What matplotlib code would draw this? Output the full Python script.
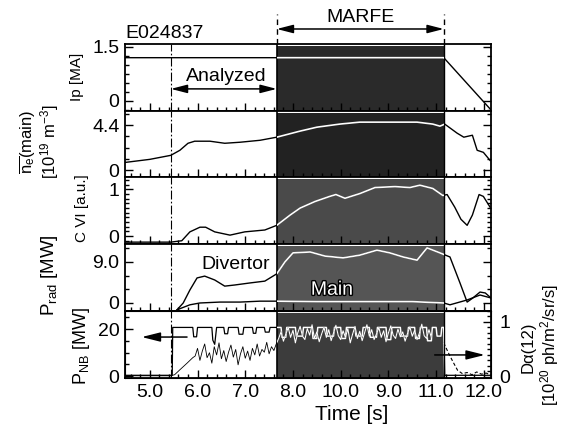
import numpy as np
import matplotlib.pyplot as plt
import matplotlib.patheffects as pe
from matplotlib.patches import Rectangle
from matplotlib.ticker import MultipleLocator

plt.rcParams['font.family'] = ['Liberation Sans', 'DejaVu Sans']
plt.rcParams['mathtext.fontset'] = 'custom'
plt.rcParams['mathtext.rm'] = 'Liberation Sans'
plt.rcParams['mathtext.it'] = 'Liberation Sans:italic'
plt.rcParams['mathtext.bf'] = 'Liberation Sans:bold'

# x axis (tick labels kept as printed in the original figure)
xticks = [5, 6, 7, 8, 9, 10, 11, 12]
xticklabels = ['5.0', '6.0', '7.0', '8.0', '10.0', '9.0', '11.0', '12.0']
t_analyzed = 5.44
t_marfe = [7.66, 11.16]

# Ip [MA]
ip_t = [4.48, 11.16, 12.15]
ip_v = [1.2, 1.2, -0.25]

# line averaged density [1e19 m^-3]
ne_t = [4.48, 5.0, 5.44, 5.63, 5.80, 5.94, 6.26, 6.57, 6.89, 7.31, 7.66, 8.14, 8.50,
        8.98, 9.40, 10.03, 10.60, 10.93, 11.08, 11.18, 11.44, 11.58, 11.76, 11.86,
        11.99, 12.13]
ne_v = [0.78, 1.08, 1.47, 1.96, 2.64, 2.84, 2.84, 2.64, 2.74, 2.93, 3.23, 3.81, 4.2,
        4.5, 4.69, 4.69, 4.69, 4.5, 4.3, 4.5, 3.62, 3.23, 3.42, 1.96, 1.76, 0.98]

# C VI [a.u.]
cvi_t = [4.48, 5.0, 5.44, 5.67, 5.84, 6.05, 6.17, 6.36, 6.68, 6.99, 7.41, 7.66, 7.94,
         8.15, 8.46, 8.77, 8.90, 9.09, 9.40, 9.72, 10.14, 10.45, 10.66, 10.93, 11.14,
         11.23, 11.39, 11.52, 11.65, 11.76, 11.90, 11.99, 12.13]
cvi_v = [-0.13, -0.13, -0.13, -0.10, 0.09, 0.19, 0.19, 0.09, 0.02, 0.09, 0.13, 0.23, 0.45,
         0.60, 0.74, 0.85, 0.89, 0.81, 0.91, 1.04, 1.06, 1.04, 1.09, 1.02, 0.87,
         0.89, 0.62, 0.36, 0.23, 0.45, 0.89, 0.85, 0.62]

# P_rad [MW]
div_t = [5.57, 5.70, 5.84, 5.99, 6.15, 6.36, 6.57, 6.78, 7.10, 7.41, 7.66, 7.83, 8.00,
         8.36, 8.67, 9.05, 9.40, 9.76, 10.03, 10.31, 10.60, 10.81, 11.08, 11.29, 11.50,
         11.65, 11.77, 11.92, 12.03, 12.15]
div_v = [-1.5, 0.0, 2.85, 5.5, 5.9, 5.05, 3.7, 3.95, 4.4, 4.8, 6.4, 9.0, 11.0,
         11.2, 10.3, 9.9, 10.5, 11.6, 11.0, 10.1, 9.4, 12.1, 11.0, 10.1, 4.4,
         0.2, 1.1, 2.4, 2.2, 1.1]
main_t = [5.57, 5.84, 6.05, 6.47, 6.89, 7.31, 7.66, 8.5, 9.5, 10.5, 11.16, 11.29,
          11.65, 11.92, 12.15]
main_v = [-1.5, -0.4, 0.0, 0.2, 0.2, 0.4, 0.4, 0.3, 0.3, 0.3, 0.0, -0.4,
          0.66, 1.75, 1.1]

# P_NB [MW]
pnb_t = [4.48, 5.47, 5.48, 5.90, 5.92, 5.98, 6.00, 6.30, 6.32, 6.36, 6.40, 6.55, 6.57,
         6.63, 6.65, 6.85, 6.87, 6.95, 6.97, 7.15, 7.17, 7.22, 7.24, 7.40, 7.42, 7.50,
         7.52, 7.75, 7.77, 7.85, 7.87, 8.05, 8.07, 8.20, 8.22, 8.40, 8.42, 8.50, 8.52,
         8.70, 8.72, 8.85, 8.87, 9.00, 9.02, 9.10, 9.12, 9.30, 9.32, 9.45, 9.47, 9.60,
         9.62, 9.75, 9.77, 9.95, 9.97, 10.05, 10.07, 10.25, 10.27, 10.40, 10.42, 10.55,
         10.57, 10.65, 10.67, 10.80, 10.82, 10.90, 10.92, 11.00, 11.02, 11.10, 11.12,
         11.16, 11.18, 12.15]
pnb_v = [0.3, 0.3, 20.7, 20.7, 16.7, 16.7, 20.7, 20.7, 15.3, 13.5, 20.7, 20.7, 18.0,
         18.0, 20.7, 20.7, 17.8, 17.8, 20.7, 20.7, 18.2, 18.2, 20.7, 20.7, 18.7, 18.7,
         20.7, 20.7, 16.5, 16.5, 20.7, 20.7, 17.0, 17.0, 20.7, 20.7, 16.0, 16.0, 20.7,
         20.7, 17.0, 17.0, 20.7, 20.7, 16.0, 16.0, 20.7, 20.7, 17.0, 17.0, 20.7, 20.7,
         16.5, 16.5, 20.7, 20.7, 15.5, 15.5, 20.7, 20.7, 17.0, 17.0, 20.7, 20.7,
         16.0, 16.0, 20.7, 20.7, 15.0, 15.0, 20.7, 20.7, 17.0, 17.0, 20.7,
         20.7, 0.3, 0.3]

# D-alpha [1e20 ph/m2/sr/s]
da_ramp_t = [4.48, 5.0, 5.44, 5.52, 5.63, 5.78, 5.90]
da_ramp_v = [0.02, 0.02, 0.02, 0.04, 0.13, 0.25, 0.35]
da_t0, da_dt = 5.95, 0.05
da_v = [0.38, 0.52, 0.30, 0.47, 0.60, 0.35, 0.44, 0.25, 0.55, 0.40, 0.62, 0.33, 0.48,
        0.28, 0.45, 0.58, 0.36, 0.50, 0.22, 0.42, 0.55, 0.34, 0.47, 0.30, 0.52, 0.40,
        0.60, 0.38, 0.50, 0.45, 0.63, 0.42, 0.55, 0.48, 0.60,
        0.70, 0.82, 0.65, 0.78, 0.90, 0.72, 0.85, 0.62, 0.80, 0.92, 0.74, 0.68, 0.88,
        0.76, 0.95, 0.70, 0.82, 0.64, 0.78, 0.90, 0.72, 0.86, 0.66, 0.80, 0.94, 0.75,
        0.68, 0.84, 0.72, 0.88, 0.62, 0.78, 0.92, 0.70, 0.83, 0.66, 0.80, 0.95, 0.74,
        0.86, 0.68, 0.78, 0.90, 0.72, 0.84, 0.64, 0.80, 0.93, 0.76, 0.70, 0.87, 0.73,
        0.82, 0.65, 0.79, 0.91, 0.74, 0.85, 0.68, 0.80, 0.96, 0.75, 0.70, 0.86, 0.72]
da_tail_t = [11.16, 11.25, 11.35, 11.45, 11.55, 11.65, 11.75, 11.85, 11.95, 12.05, 12.15]
da_tail_v = [0.62, 0.45, 0.28, 0.12, 0.06, 0.08, 0.04, 0.09, 0.05, 0.07, 0.03]

W, H = 566, 429
bounds = [44, 111, 177.5, 244, 311, 378]
x_left, x_right = 125, 491


def rect(i):
    top, bot = bounds[i], bounds[i + 1]
    return [x_left / W, 1 - bot / H, (x_right - x_left) / W, (bot - top) / H]


fig = plt.figure(figsize=(W / 100, H / 100), dpi=100)
axes = [fig.add_axes(rect(i)) for i in range(5)]

panels = [
    ((-0.28, 1.58), [0, 1.5], ['0', '1.5'], 0.25, '#2a2a2a'),
    ((-0.68, 5.77), [0, 4.4], ['0', '4.4'], 1.1, '#222222'),
    ((-0.17, 1.255), [0, 1], ['0', '1'], 0.1, '#4a4a4a'),
    ((-1.76, 12.95), [0, 9], ['0', '9.0'], 3, '#555555'),
    ((-0.85, 27.7), [0, 20], ['0', '20'], 5, '#3c3c3c'),
]


def white_inside(ax, line):
    clip = Rectangle((t_marfe[0], -1e3), t_marfe[1] - t_marfe[0], 2e3,
                     transform=ax.transData)
    line.set_clip_path(clip)


def trace(ax, t, v, lw=1.0, ls='-'):
    ax.plot(t, v, color='black', lw=lw, ls=ls, zorder=3)
    wl, = ax.plot(t, v, color='white', lw=lw + 0.2, ls=ls, zorder=4)
    white_inside(ax, wl)


for i, ax in enumerate(axes):
    ylim, yt, ytl, mstep, shade = panels[i]
    ax.set_xlim(4.48, 12.15)
    ax.set_ylim(*ylim)
    ax.set_yticks(yt)
    ax.set_yticklabels(ytl)
    ax.yaxis.set_minor_locator(MultipleLocator(mstep))
    ax.set_xticks(xticks)
    ax.xaxis.set_minor_locator(MultipleLocator(0.2))
    if i < 4:
        ax.set_xticklabels([])
    else:
        ax.set_xticklabels(xticklabels)
    ax.tick_params(which='both', direction='in', top=False, right=(i < 4),
                   labelsize=14, pad=4)
    ax.tick_params(which='major', length=6, width=1)
    ax.tick_params(which='minor', length=3, width=1)
    for sp in ax.spines.values():
        sp.set_linewidth(1.3)
    ax.axvspan(t_marfe[0], t_marfe[1], ymin=0, ymax=0.97, color=shade, lw=0, zorder=1)
    ax.axvline(t_marfe[0], color='black', lw=1.2, zorder=2)
    ax.axvline(t_marfe[1], color='black', lw=1.0, zorder=2)
    ax.axvline(t_analyzed, color='black', lw=0.8, ls=(0, (8, 2, 1.5, 2)), zorder=2)

ax1, ax2, ax3, ax4, ax5 = axes

trace(ax1, ip_t, ip_v)
trace(ax2, ne_t, ne_v)
trace(ax3, cvi_t, cvi_v)
trace(ax4, div_t, div_v)
trace(ax4, main_t, main_v)
trace(ax5, pnb_t, pnb_v, lw=0.9)

ax5b = ax5.twinx()
ax5b.set_ylim(-0.02, 1.2)
ax5b.set_yticks([0, 1])
ax5b.set_yticklabels(['0', '1'])
ax5b.yaxis.set_minor_locator(MultipleLocator(0.1))
ax5b.tick_params(which='both', direction='in', labelsize=14, pad=6)
ax5b.tick_params(which='major', length=6, width=1)
ax5b.tick_params(which='minor', length=3, width=1)
da_t = [da_t0 + da_dt * k for k in range(len(da_v))]
trace(ax5b, da_ramp_t + da_t, da_ramp_v + da_v, lw=0.6)
trace(ax5b, da_tail_t, da_tail_v, lw=0.8, ls=(0, (3, 2)))

# annotations above the top panel
xt = ax1.get_xaxis_transform()
for tm in t_marfe:
    ax1.plot([tm, tm], [1.0, 1.45], transform=xt, color='black', lw=1.0,
             ls=(0, (4, 3)), clip_on=False)
arrow_kw = dict(arrowstyle='<|-|>,head_length=0.7,head_width=0.18', color='black',
                lw=1.1, shrinkA=0, shrinkB=0, mutation_scale=14)
ax1.annotate('', xy=(t_marfe[0], 1.224), xytext=(t_marfe[1], 1.224), xycoords=xt,
             textcoords=xt, arrowprops=arrow_kw, annotation_clip=False)
ax1.text(sum(t_marfe) / 2, 1.40, 'MARFE', transform=xt, ha='center', va='center',
         fontsize=14)
ax1.text(0.0, 1.164, 'E024837', transform=ax1.transAxes, ha='left', va='center',
         fontsize=14)
ax1.annotate('', xy=(t_analyzed, 0.33), xytext=(t_marfe[0], 0.33), xycoords=xt,
             textcoords=xt, arrowprops=arrow_kw, annotation_clip=False)
ax1.text(6.61, 0.52, 'Analyzed', transform=xt, ha='center', va='center',
         fontsize=14, zorder=5)

ax4.text(6.80, 0.69, 'Divertor', transform=ax4.get_xaxis_transform(),
         ha='center', va='center', fontsize=14, zorder=5)
ax4.text(8.82, 0.31, 'Main', transform=ax4.get_xaxis_transform(), ha='center',
         va='center', fontsize=14, color='white', zorder=5,
         path_effects=[pe.withStroke(linewidth=2, foreground='black')])

one_arrow = dict(arrowstyle='-|>,head_length=0.8,head_width=0.2', color='black',
                 lw=1.1, shrinkA=0, shrinkB=0, mutation_scale=14)
ax5.annotate('', xy=(4.83, 16.6), xytext=(5.78, 16.6), arrowprops=one_arrow, zorder=6)
ax5b.annotate('', xy=(12.02, 0.40), xytext=(10.97, 0.40), arrowprops=one_arrow, zorder=6)

# axis labels
def flabel(x, y, s, size, rot=90):
    fig.text(x / W, 1 - y / H, s, rotation=rot, ha='center', va='center', fontsize=size)


flabel(77, 77, 'Ip [MA]', 11)
flabel(28, 142, r'$\overline{\mathrm{n}_{\mathrm{e}}}$(main)', 12)
flabel(50, 142, r'[10$^{19}$ m$^{-3}$]', 12)
flabel(82, 208, 'C VI [a.u.]', 11)
flabel(50, 275, r'P$_{\mathrm{rad}}$ [MW]', 13.5)
flabel(82, 346, r'P$_{\mathrm{NB}}$ [MW]', 13)
flabel(528, 347, 'Dα(12)', 12)
flabel(550, 345, r'[10$^{20}$ ph/m$^2$/sr/s]', 12)
flabel(352, 415, 'Time [s]', 15, rot=0)

fig.savefig('out.png', dpi=100)
